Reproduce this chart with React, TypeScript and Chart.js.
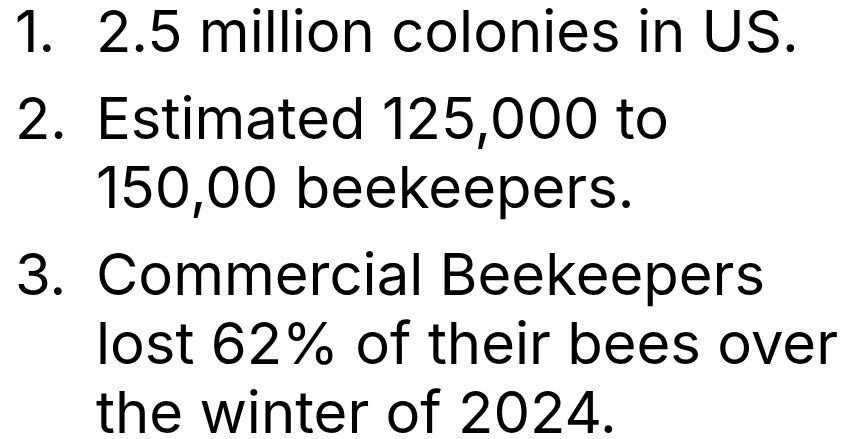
import React, { useEffect, useRef } from "react";
import { Chart, registerables } from "chart.js";

Chart.register(...registerables);

// List content
const itemNumbers: string[] = ["1.", "2.", "3."];
const item1Lines: string[] = ["2.5 million colonies in US."];
const item2Lines: string[] = ["Estimated 125,000 to", "150,00 beekeepers."];
const item3Lines: string[] = ["Commercial Beekeepers", "lost 62% of their bees over", "the winter of 2024."];
const items: string[][] = [item1Lines, item2Lines, item3Lines];

const FONT_FAMILY = "Inter";
const FONT_SIZE = 58;
const LINE_PX = 69; // pixels per line unit
const ITEM_GAP = 0.26; // extra space between items, in line units
const FIRST_LINE_PX = 34.5; // pixel of first line's centre
const PAD_LEFT = 15;
const NUM_COL = 81;

export default function App() {
  const canvasRef = useRef<HTMLCanvasElement | null>(null);

  useEffect(() => {
    if (!canvasRef.current) return;

    // Build the line table from the items
    const lineTexts: string[] = [];
    const lineNumbers: string[] = [];
    const lineValues: number[] = [];
    let idx = 0;
    items.forEach((lines, i) => {
      lines.forEach((t, j) => {
        lineTexts.push(t);
        lineNumbers.push(j === 0 ? itemNumbers[i] : "");
        lineValues.push(idx + i * ITEM_GAP);
        idx++;
      });
    });

    const W = 846;
    const H = 439;
    const yMin = -FIRST_LINE_PX / LINE_PX;
    const yMax = yMin + H / LINE_PX;

    const font = { family: FONT_FAMILY, size: FONT_SIZE, weight: "normal" as const, lineHeight: 1.2 };

    const axisBase = (labels: string[], width: number, weight: number) => ({
      type: "linear" as const,
      position: "left" as const,
      reverse: true,
      min: yMin,
      max: yMax,
      weight,
      grid: { display: false, drawTicks: false },
      border: { display: false },
      afterBuildTicks: (axis: any) => {
        axis.ticks = lineValues.map((v) => ({ value: v }));
      },
      afterFit: (axis: any) => {
        axis.width = width;
        axis.paddingTop = 0;
        axis.paddingBottom = 0;
      },
      ticks: {
        autoSkip: false,
        padding: 0,
        crossAlign: "far" as const,
        color: "#000000",
        font,
        callback: (_v: any, i: number) => labels[i],
      },
    });

    const chart = new Chart(canvasRef.current, {
      type: "scatter",
      data: { datasets: [] },
      options: {
        animation: false,
        responsive: true,
        maintainAspectRatio: false,
        layout: { padding: { left: PAD_LEFT, right: 0, top: 0, bottom: 0 } },
        plugins: {
          legend: { display: false },
          tooltip: { enabled: false },
          title: { display: false },
        },
        scales: {
          x: { display: false, min: 0, max: 1 },
          num: axisBase(lineNumbers, NUM_COL, 10),
          y: axisBase(lineTexts, W - PAD_LEFT - NUM_COL - 1, 0),
        } as any,
      },
    });

    return () => chart.destroy();
  }, []);

  return (
    <div
      style={{
        position: "fixed",
        left: 0,
        top: 0,
        width: 846,
        height: 439,
        background: "#ffffff",
      }}
    >
      <canvas ref={canvasRef} />
    </div>
  );
}
